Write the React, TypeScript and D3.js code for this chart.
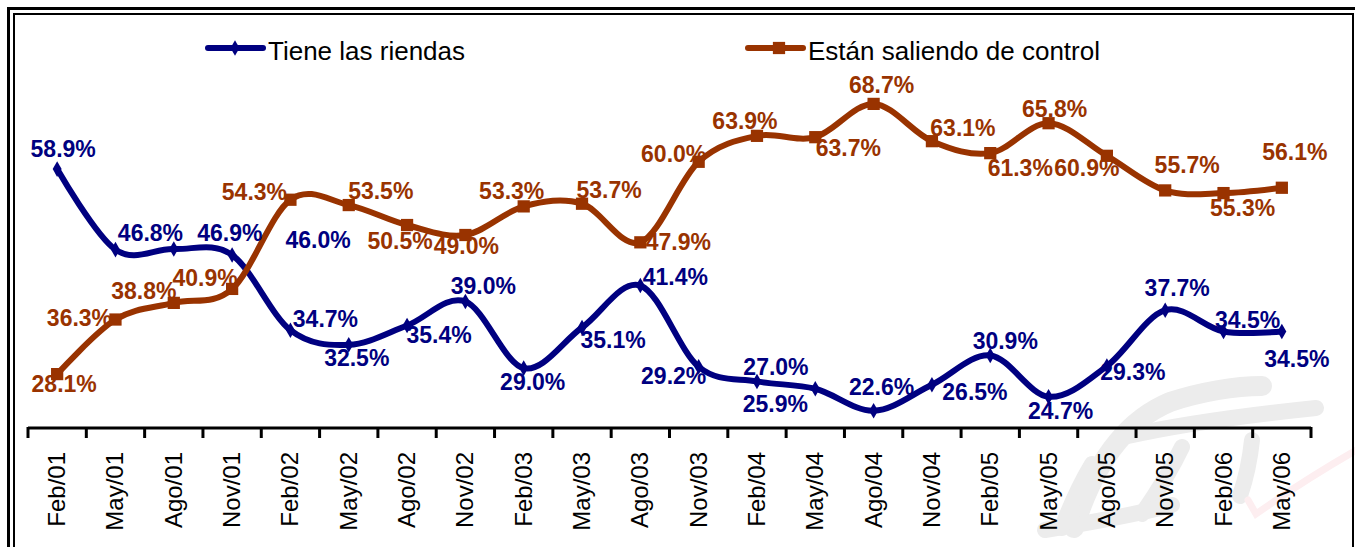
import React, { useEffect, useRef } from "react";
import * as d3 from "d3";

const categories = [
  "Feb/01", "May/01", "Ago/01", "Nov/01", "Feb/02", "May/02", "Ago/02", "Nov/02",
  "Feb/03", "May/03", "Ago/03", "Nov/03", "Feb/04", "May/04", "Ago/04", "Nov/04",
  "Feb/05", "May/05", "Ago/05", "Nov/05", "Feb/06", "May/06"
];

const tieneValues = [
  58.9, 46.8, 46.9, 46.0, 34.7, 32.5, 35.4, 39.0, 29.0, 35.1, 41.4,
  29.2, 27.0, 25.9, 22.6, 26.5, 30.9, 24.7, 29.3, 37.7, 34.5, 34.5
];

const estanValues = [
  28.1, 36.3, 38.8, 40.9, 54.3, 53.5, 50.5, 49.0, 53.3, 53.7, 47.9,
  60.0, 63.9, 63.7, 68.7, 63.1, 61.3, 65.8, 60.9, 55.7, 55.3, 56.1
];

const seriesNames = ["Tiene las riendas", "Están saliendo de control"];

// where each data label sits relative to its point (label centre)
const tieneLabelOffsets: [number, number][] = [
  [6, -20], [35, -17], [56, -16], [86, -15], [35, -11], [8, 13], [32, 9], [18, -16],
  [9, 14], [31, 12], [35, -9], [-25, 9], [19, -14], [-40, 15], [8, -24], [43, 7],
  [15, -14], [12, 14], [26, 6], [12, -22], [24, -12], [15, 27]
];
const estanLabelOffsets: [number, number][] = [
  [7, 10], [-36, -2], [-30, -12], [-27, -11], [-36, -8], [32, -14], [-7, 16], [1, 11],
  [-12, -15], [27, -14], [38, 0], [-25, -8], [-12, -15], [33, 11], [8, -19], [31, -13],
  [30, 15], [6, -14], [-20, 12], [22, -25], [19, 15], [13, -36]
];

const BLUE = "#000080";
const BROWN = "#993300";
const FONT = "'Liberation Sans', Arial, Helvetica, sans-serif";

export default function App() {
  const svgRef = useRef<SVGSVGElement>(null);

  useEffect(() => {
    if (!svgRef.current) return;
    const svg = d3.select(svgRef.current);
    svg.selectAll("*").remove();

    const width = 1355;
    const height = 547;

    const x = d3.scaleBand<string>().domain(categories).range([28, 1311]);
    const y = d3.scaleLinear().domain([20, 80]).range([428, 28.7]);
    const cx = (c: string) => (x(c) as number) + x.bandwidth() / 2;

    svg.append("rect").attr("width", width).attr("height", height).attr("fill", "#fff");

    // watermark (faint grey brush logo + pink check)
    const wm = svg.append("g").attr("fill", "none").attr("stroke-linecap", "round");
    const greyStrokes = [
      "M1074,528 C1092,470 1122,422 1170,402 C1200,392 1235,386 1262,386",
      "M1128,436 C1190,422 1258,414 1316,408",
      "M1182,447 C1170,472 1156,494 1142,514",
      "M1252,440 C1250,460 1246,478 1240,496",
      "M1045,530 C1082,524 1130,516 1172,505",
      "M1062,528 C1070,506 1080,484 1092,464"
    ];
    greyStrokes.forEach((d, i) => {
      wm.append("path")
        .attr("d", d)
        .attr("stroke", "#ececec")
        .attr("stroke-width", i === 0 ? 20 : 16);
    });
    wm.append("path")
      .attr("d", "M1248,500 L1256,514 C1290,490 1325,468 1360,448")
      .attr("stroke", "#fdeef0")
      .attr("stroke-width", 7);

    // frame
    svg.append("rect")
      .attr("x", 8.5).attr("y", 8.5)
      .attr("width", 1360).attr("height", 600)
      .attr("fill", "none").attr("stroke", "#000").attr("stroke-width", 3);
    svg.append("rect")
      .attr("x", 14).attr("y", 14)
      .attr("width", 1339).attr("height", 600)
      .attr("fill", "none").attr("stroke", "#000").attr("stroke-width", 2);

    // x axis
    const axis = svg.append("g");
    axis.append("line")
      .attr("x1", x.range()[0]).attr("x2", x.range()[1])
      .attr("y1", 428).attr("y2", 428)
      .attr("stroke", "#000").attr("stroke-width", 3);
    const bounds = categories.map((c) => x(c) as number).concat([x.range()[1]]);
    axis.selectAll("line.tick")
      .data(bounds)
      .join("line")
      .attr("class", "tick")
      .attr("x1", (d) => d).attr("x2", (d) => d)
      .attr("y1", 427).attr("y2", 438)
      .attr("stroke", "#000").attr("stroke-width", 3);
    axis.selectAll("text")
      .data(categories)
      .join("text")
      .attr("transform", (d) => `translate(${cx(d) + 8},452) rotate(-90)`)
      .attr("text-anchor", "end")
      .attr("font-family", FONT)
      .attr("font-size", 24)
      .attr("fill", "#000")
      .text((d) => d);

    const line = d3.line<number>()
      .x((_, i) => cx(categories[i]))
      .y((d) => y(d))
      .curve(d3.curveCardinal.tension(0));

    const series = [
      { values: tieneValues, color: BLUE, offsets: tieneLabelOffsets, marker: "diamond" },
      { values: estanValues, color: BROWN, offsets: estanLabelOffsets, marker: "square" }
    ];

    series.forEach((s) => {
      svg.append("path")
        .datum(s.values)
        .attr("fill", "none")
        .attr("stroke", s.color)
        .attr("stroke-width", 6)
        .attr("stroke-linejoin", "round")
        .attr("stroke-linecap", "round")
        .attr("d", line);

      const sym = d3.symbol()
        .type(s.marker === "diamond" ? d3.symbolDiamond : d3.symbolSquare)
        .size(s.marker === "diamond" ? 70 : 150);
      svg.append("g")
        .selectAll("path")
        .data(s.values)
        .join("path")
        .attr("transform", (d, i) => `translate(${cx(categories[i])},${y(d)})`)
        .attr("d", sym)
        .attr("fill", s.color);
    });

    series.forEach((s) => {
      svg.append("g")
        .selectAll("text")
        .data(s.values)
        .join("text")
        .attr("x", (d, i) => cx(categories[i]) + s.offsets[i][0])
        .attr("y", (d, i) => y(d) + s.offsets[i][1] + 8)
        .attr("text-anchor", "middle")
        .attr("font-family", FONT)
        .attr("font-weight", "bold")
        .attr("font-size", 23)
        .attr("fill", s.color)
        .text((d) => `${d.toFixed(1)}%`);
    });

    // legend
    const legendX = [208, 748];
    const legend = svg.append("g");
    series.forEach((s, i) => {
      const g = legend.append("g").attr("transform", `translate(${legendX[i]},48)`);
      g.append("line")
        .attr("x1", 0).attr("x2", 55)
        .attr("stroke", s.color).attr("stroke-width", 6)
        .attr("stroke-linecap", "round");
      g.append("path")
        .attr("transform", `translate(${i === 0 ? 27 : 31},0)`)
        .attr("d", d3.symbol()
          .type(s.marker === "diamond" ? d3.symbolDiamond : d3.symbolSquare)
          .size(s.marker === "diamond" ? 70 : 150)())
        .attr("fill", s.color);
      g.append("text")
        .attr("x", 60).attr("y", 12)
        .attr("font-family", FONT)
        .attr("font-size", 26)
        .attr("fill", "#000")
        .text(seriesNames[i]);
    });
  }, []);

  return (
    <div>
      <style>{"body{margin:0}"}</style>
      <svg ref={svgRef} width={1355} height={547} style={{ display: "block" }} />
    </div>
  );
}
